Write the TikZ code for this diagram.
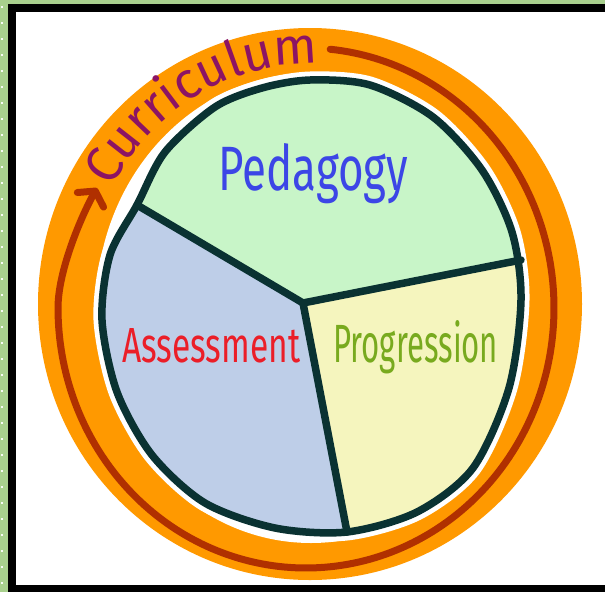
\documentclass[tikz,border=0pt]{standalone}
\usepackage{fontspec}
\setmainfont{Fira Sans}
\usepackage{graphicx}
\usetikzlibrary{arrows.meta,decorations.text}
\definecolor{bordergreen}{RGB}{168,208,141}
\definecolor{ringorange}{RGB}{255,153,0}
\definecolor{ringred}{RGB}{176,48,0}
\definecolor{currcol}{RGB}{140,20,100}
\definecolor{piedark}{RGB}{10,50,50}
\definecolor{pedfill}{RGB}{200,245,200}
\definecolor{assfill}{RGB}{190,206,232}
\definecolor{profill}{RGB}{245,245,190}
\definecolor{pedtext}{RGB}{60,70,230}
\definecolor{asstext}{RGB}{235,30,40}
\definecolor{protext}{RGB}{120,170,30}
\tikzset{
  pieoutline/.style={insert path={plot[smooth cycle] coordinates {
    (310,80) (370,85) (433,117) (482,170) (512,232) (521,300) (509,388)
    (473,468) (417,512) (347,532) (275,528) (205,503) (152,455) (117,392)
    (102,320) (110,255) (137,205) (165,152) (215,107) (262,88)}}},
  pieline/.style={draw=piedark, line width=7.5pt, line join=round, line cap=round},
  labeltext/.style={anchor=base west, inner sep=0pt}
}
\begin{document}
\begin{tikzpicture}[x=1pt,y=-1pt]
\useasboundingbox (0,0) rectangle (605,592);
% frame
\fill[bordergreen] (0,0) rectangle (605,592);
\foreach \k in {0,...,36} \fill[white!92!bordergreen] (1,{6+16*\k}) rectangle (3,{8+16*\k});
\fill[black] (8,4) rectangle (605,592);
\fill[white] (16,12) rectangle (605,585);
% orange ring
\fill[ringorange] (310,304) ellipse [x radius=272pt, y radius=276pt];
% dark red arrow line
\draw[ringred, line width=7pt, line cap=round, -{Straight Barb[length=10pt,width=30pt,round]}]
  plot[domain=-84.4:180, samples=200, variable=\t] ({306+248*cos(\t)},{308+260*sin(\t)})
  .. controls (58,270) and (82,215) .. (97,188);
% inner white
\fill[white] (311,308) ellipse [x radius=215pt, y radius=235pt];
\draw[white, line width=17pt, pieoutline];
% pie sectors
\coordinate (J) at (303,303);
\coordinate (UL) at (137,205);
\coordinate (R) at (521,260);
\coordinate (B) at (347,532);
\begin{scope}
\clip[pieoutline];
\fill[pedfill] (J) -- (-29,107) -- (-29,-10) -- (640,-10) -- (640,236.5) -- cycle;
\fill[assfill] (J) -- (-29,107) -- (-29,640) -- (368,640) -- cycle;
\fill[profill] (J) -- (368,640) -- (640,640) -- (640,236.5) -- cycle;
\end{scope}
\draw[pieline] (J) -- (UL);
\draw[pieline] (J) -- (R);
\draw[pieline] (J) -- (B);
\draw[pieline, pieoutline];
% labels
\node[labeltext, text=pedtext] (ped) at (218,190) {\resizebox{190pt}{47pt}{\fontsize{50}{50}\selectfont Pedagogy}};
\node[labeltext, text=asstext] (ass) at (122,362) {\resizebox{178pt}{34pt}{\fontsize{44}{44}\selectfont Assessment}};
\node[labeltext, text=protext] (pro) at (333,362) {\resizebox{165pt}{42pt}{\fontsize{44}{44}\selectfont Progression}};
% curriculum along arc
\path[decorate, decoration={text along path, text={|\fontsize{51}{51}\selectfont|Curriculum}, text color=currcol, text align=left}]
  plot[domain=209.5:292, samples=100, variable=\t] ({310+228*cos(\t)},{308+244*sin(\t)});
\end{tikzpicture}
\end{document}
